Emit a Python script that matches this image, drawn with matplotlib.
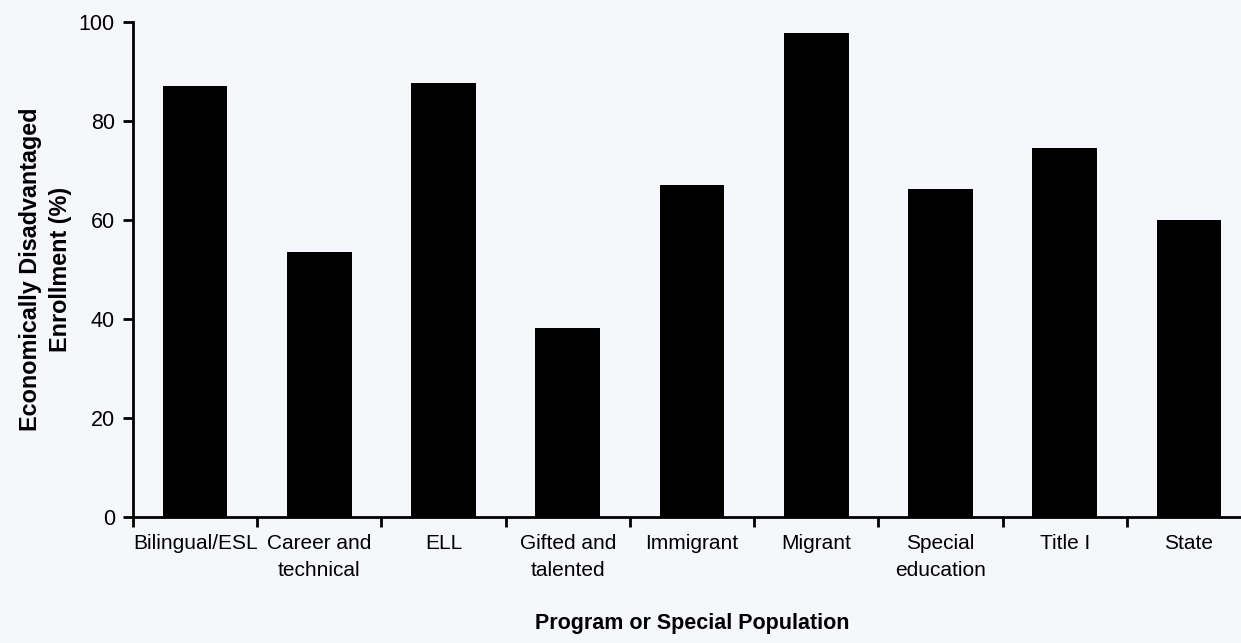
import numpy as np
import matplotlib.pyplot as plt

# Categories and values
programs = ['Bilingual/ESL', 'Career and\ntechnical', 'ELL', 'Gifted and\ntalented',
            'Immigrant', 'Migrant', 'Special\neducation', 'Title I', 'State']
enrollment = [87.1, 53.6, 87.7, 38.2, 67.1, 97.7, 66.3, 74.5, 60.0]
yTicks = [0, 20, 40, 60, 80, 100]

plt.rcParams['font.family'] = ['Liberation Sans', 'DejaVu Sans']
bg = '#f6f7fb'

fig = plt.figure(figsize=(12.41, 6.43), dpi=100, facecolor=bg)
ax = fig.add_axes([133 / 1241, 126 / 643, 1118 / 1241, 495 / 643], facecolor=bg)

x = np.arange(len(programs))
ax.bar(x, enrollment, width=0.52, color='black')

ax.set_xlim(-0.5, len(programs) - 0.5)
ax.set_ylim(0, 100)

# Category labels centered, tick marks at category boundaries
ax.set_xticks(x)
ax.set_xticklabels(programs, fontsize=15, linespacing=1.55)
ax.set_xticks(np.arange(len(programs) + 1) - 0.5, minor=True)
ax.tick_params(axis='x', which='major', length=0, pad=12)
ax.tick_params(axis='x', which='minor', length=7, width=2, direction='out')

ax.set_yticks(yTicks)
ax.tick_params(axis='y', length=7, width=2, direction='out', labelsize=15.5, pad=6)

for side in ['top', 'right']:
    ax.spines[side].set_visible(False)
for side in ['left', 'bottom']:
    ax.spines[side].set_linewidth(2)

ax.set_ylabel('Economically Disadvantaged\nEnrollment (%)', fontsize=16.8,
              fontweight='bold', labelpad=5, linespacing=1.4)
ax.set_xlabel('Program or Special Population', fontsize=15.5, fontweight='bold', labelpad=24)

fig.savefig('out.png', dpi=100, facecolor=bg)
